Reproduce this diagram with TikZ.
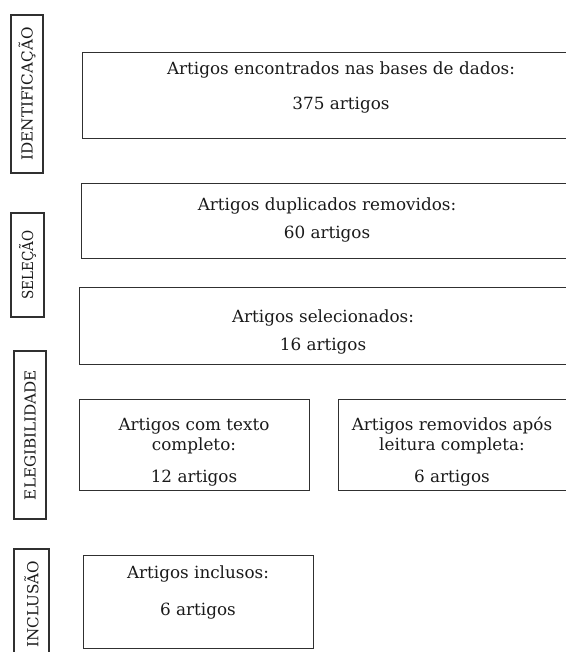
\documentclass[tikz,border=0pt]{standalone}
\usepackage{fontspec}
\setmainfont{DejaVu Serif}
\definecolor{ln}{HTML}{303030}
\definecolor{tx}{HTML}{1A1A1A}
\tikzset{
  box/.style={draw=ln, line width=1pt, anchor=north west, inner sep=0pt},
  txt/.style={text=tx, font=\fontsize{12.6}{14}\selectfont, inner sep=0pt, anchor=base},
  stage/.style={draw=ln, line width=1pt, inner sep=0pt},
  stagetxt/.style={text=tx, font=\fontsize{11.4}{13}\selectfont, rotate=90, inner sep=0pt}
}
\begin{document}
\begin{tikzpicture}[x=0.75pt,y=-0.75pt]
\useasboundingbox (0,0) rectangle (566,652);
\clip (0,0) rectangle (566,652);
% stage labels
\node[stage, minimum width=32*0.75pt, minimum height=158*0.75pt] (sid) at (27,94) {};
\node[stagetxt] (tid) at (sid.center) {IDENTIFICAÇÃO};
\node[stage, minimum width=33*0.75pt, minimum height=104*0.75pt] (ssel) at (27.5,265) {};
\node[stagetxt] (tsel) at (ssel.center) {\scalebox{0.89}[1]{SELEÇÃO}};
\node[stage, minimum width=32*0.75pt, minimum height=168*0.75pt] (seleg) at (30,435) {};
\node[stagetxt] (teleg) at (seleg.center) {ELEGIBILIDADE};
\node[stage, minimum width=35*0.75pt, minimum height=130*0.75pt] (sinc) at (31.5,614) {};
\node[stagetxt] (tinc) at (31.5,604) {INCLUSÃO};
% boxes
\node[box, minimum width=520*0.75pt, minimum height=86*0.75pt] (b1) at (82,52) {};
\node[txt] (b1a) at (341,75) {Artigos encontrados nas bases de dados:};
\node[txt] (b1b) at (341,110) {375 artigos};
\node[box, minimum width=494*0.75pt, minimum height=75*0.75pt] (b2) at (81,183) {};
\node[txt] (b2a) at (327,210) {Artigos duplicados removidos:};
\node[txt] (b2b) at (327,238) {60 artigos};
\node[box, minimum width=490*0.75pt, minimum height=77*0.75pt] (b3) at (79,287) {};
\node[txt] (b3a) at (323,322) {Artigos selecionados:};
\node[txt] (b3b) at (323,350) {16 artigos};
\node[box, minimum width=230*0.75pt, minimum height=91*0.75pt] (b4) at (79,399) {};
\node[txt] (b4a) at (194,430) {Artigos com texto};
\node[txt] (b4b) at (194,450) {completo:};
\node[txt] (b4c) at (194,482) {12 artigos};
\node[box, minimum width=240*0.75pt, minimum height=91*0.75pt] (b5) at (338,399) {};
\node[txt] (b5a) at (452,430) {Artigos removidos após};
\node[txt] (b5b) at (452,450) {leitura completa:};
\node[txt] (b5c) at (452,482) {6 artigos};
\node[box, minimum width=230*0.75pt, minimum height=93*0.75pt] (b6) at (83,555) {};
\node[txt] (b6a) at (198,578) {Artigos inclusos:};
\node[txt] (b6b) at (198,615) {6 artigos};
\end{tikzpicture}
\end{document}
